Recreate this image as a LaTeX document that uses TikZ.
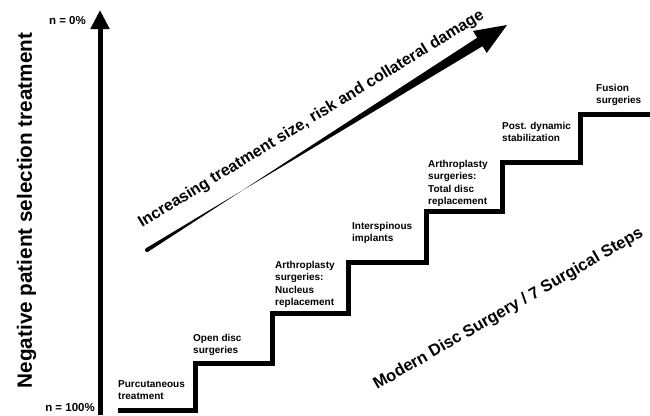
\documentclass[tikz,border=0pt]{standalone}
\usepackage{fontspec}
\setmainfont{Liberation Sans}
\usetikzlibrary{arrows.meta,calc}
\begin{document}
\begin{tikzpicture}[x=1pt,y=-1pt,
  steplabel/.style={anchor=north west,inner sep=0pt,align=left,
    font=\fontsize{10}{12.3}\selectfont\bfseries},
  stairline/.style={line width=5pt,line join=miter,line cap=butt},
  bigtext/.style={inner sep=0pt,font=\fontsize{16}{18}\selectfont\bfseries}]
\fill[white] (0,0) rectangle (650,415);
\useasboundingbox (0,0) rectangle (650,415);
% vertical axis
\coordinate (ybot) at (100,415);
\coordinate (ytop) at (100,10);
\draw[line width=5pt,-{Triangle[width=18pt,length=19pt]}] (ybot) -- (ytop);
\node[anchor=east,inner sep=0pt,font=\fontsize{11.5}{13}\selectfont\bfseries] (n0) at (86,21) {n = 0\%};
\node[anchor=east,inner sep=0pt,font=\fontsize{11.5}{13}\selectfont\bfseries] (n100) at (95,408) {n = 100\%};
\node[rotate=90,inner sep=0pt,font=\fontsize{20.7}{24}\selectfont\bfseries] (ylab) at (26.5,210.5) {Negative patient selection treatment};
% stairs
\coordinate (s0) at (118,410);
\coordinate (s1) at (195,363);
\coordinate (s2) at (272,313);
\coordinate (s3) at (348,262);
\coordinate (s4) at (426,211);
\coordinate (s5) at (502,162);
\coordinate (s6) at (580,114);
\coordinate (s7) at (650,114);
\draw[stairline] (s0) -| (s1) -| (s2) -| (s3) -| (s4) -| (s5) -| (s6) -- (s7);
% step labels
\node[steplabel] (l1) at (118,380) {Purcutaneous\\treatment};
\node[steplabel] (l2) at (193,334) {Open disc\\surgeries};
\node[steplabel] (l3) at (275,261) {Arthroplasty\\surgeries:\\Nucleus\\replacement};
\node[steplabel] (l4) at (352,222) {Interspinous\\implants};
\node[steplabel] (l5) at (428,160) {Arthroplasty\\surgeries:\\Total disc\\replacement};
\node[steplabel] (l6) at (502,122) {Post. dynamic\\stabilization};
\node[steplabel] (l7) at (596,84) {Fusion\\surgeries};
% diagonal arrow
\coordinate (tail) at (147,250);
\coordinate (tip) at (507,25);
\coordinate (hb) at ($(tip)!32pt!(tail)$);
\fill[black] ($(tail)!2pt!90:(tip)$) -- ($(hb)!5pt!-90:(tip)$) -- ($(hb)!13pt!-90:(tip)$)
  -- (tip) -- ($(hb)!13pt!90:(tip)$) -- ($(hb)!5pt!90:(tip)$) -- ($(tail)!2pt!-90:(tip)$) -- cycle;
\fill[black] (tail) circle (2pt);
\node[bigtext,anchor=base west,rotate=31.5] (inc) at (142,228) {Increasing treatment size, risk and collateral damage};
\node[bigtext,font=\fontsize{16.5}{18}\selectfont\bfseries,anchor=base west,rotate=30] (mod) at (377,390) {Modern Disc Surgery / 7 Surgical Steps};
\end{tikzpicture}
\end{document}
